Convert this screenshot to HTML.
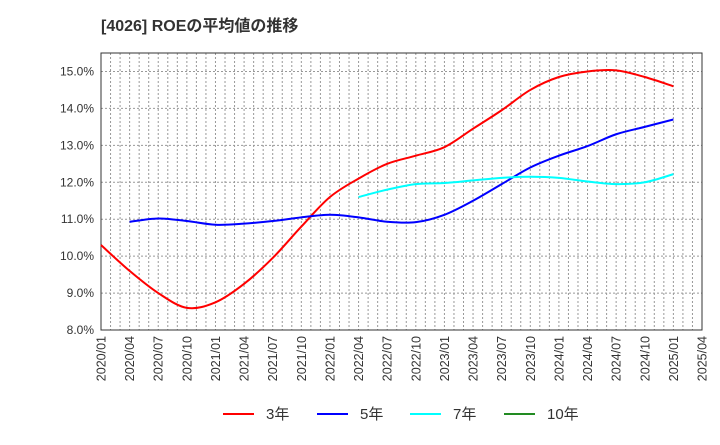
<!DOCTYPE html>
<html><head><meta charset="utf-8"><style>
body{margin:0;background:#fff;font-family:"Liberation Sans","Noto Sans CJK JP",sans-serif}
</style></head><body>
<svg width="720" height="440" xmlns="http://www.w3.org/2000/svg">
<text x="101" y="31" font-size="16" font-weight="bold" fill="#333">[4026]  ROEの平均値の推移</text>
<g id="grid"></g>
<rect x="101" y="53" width="601" height="277" fill="none" stroke="#333" stroke-width="1"/>
<g id="yt"></g><g id="xt"></g><g id="series"></g>
<g id="legend" font-size="15" fill="#333"></g>
</svg>
<script>
const yTicks=[8,9,10,11,12,13,14,15];
const xLabels=["2020/01","2020/04","2020/07","2020/10","2021/01","2021/04","2021/07","2021/10","2022/01","2022/04","2022/07","2022/10","2023/01","2023/04","2023/07","2023/10","2024/01","2024/04","2024/07","2024/10","2025/01","2025/04"];
const roe3=[10.3,9.6,9.0,8.6,8.75,9.25,9.95,10.8,11.6,12.1,12.5,12.72,12.95,13.45,13.95,14.5,14.85,15.0,15.03,14.85,14.6];
const roe5=[null,10.93,11.02,10.95,10.85,10.88,10.95,11.05,11.12,11.05,10.93,10.92,11.12,11.5,11.95,12.4,12.72,12.98,13.3,13.5,13.7];
const roe7=[null,null,null,null,null,null,null,null,null,11.6,11.8,11.95,11.98,12.05,12.12,12.15,12.12,12.02,11.95,12.0,12.22];
const roe10=[];
const NS="http://www.w3.org/2000/svg";
const X0=101,X1=702,Y0=330,Y1=53,vmin=8,vmax=15.5;
const xq=i=>X0+(X1-X0)*i/21;
const xm=m=>X0+(X1-X0)*m/63;
const y=v=>Y0-(v-vmin)/(vmax-vmin)*(Y0-Y1);
function mk(t,a,p){const e=document.createElementNS(NS,t);for(const k in a)e.setAttribute(k,a[k]);p.appendChild(e);return e;}
const grid=document.getElementById('grid');
for(let m=1;m<63;m++){const l=mk('line',{x1:xm(m),x2:xm(m),y1:Y1,y2:Y0,stroke:'#999','stroke-dasharray':'2,2','stroke-width':1},grid);

}
const yt=document.getElementById('yt');
yTicks.forEach(v=>{if(v>vmin){const l=mk('line',{x1:X0,x2:X1,y1:y(v),y2:y(v),stroke:'#999','stroke-dasharray':'2,2'},grid);

}
const t=mk('text',{x:94,y:y(v)+4,'text-anchor':'end','font-size':12,fill:'#333'},yt);t.textContent=v.toFixed(1)+'%';

});
const xt=document.getElementById('xt');
xLabels.forEach((s,i)=>{const t=mk('text',{transform:`translate(${xq(i)+4.5},336) rotate(-90)`,'text-anchor':'end','font-size':12.5,fill:'#333'},xt);t.textContent=s;

});
function path(arr){const p=[];arr.forEach((v,i)=>{if(v!=null)p.push([xq(i),y(v)]);});if(p.length<2)return '';
let d=`M${p[0][0]},${p[0][1]}`;for(let i=0;i<p.length-1;i++){const a=p[i-1]||p[i],b=p[i],c=p[i+1],e=p[i+2]||c;
d+=` C${b[0]+(c[0]-a[0])/6},${b[1]+(c[1]-a[1])/6} ${c[0]-(e[0]-b[0])/6},${c[1]-(e[1]-b[1])/6} ${c[0]},${c[1]}`;}return d;}
const ser=document.getElementById('series');
[[roe3,'#ff0000','line-3yr'],[roe5,'#0000ff','line-5yr'],[roe7,'#00ffff','line-7yr'],[roe10,'#228b22','line-10yr']].forEach(([a,c,n])=>{const d=path(a);if(!d)return;
const e=mk('path',{d:d,fill:'none',stroke:c,'stroke-width':2},ser);

});
const lg=document.getElementById('legend');
[['3年','#ff0000',223],['5年','#0000ff',317],['7年','#00ffff',410],['10年','#228b22',504]].forEach(([s,c,x])=>{
const l=mk('line',{x1:x,x2:x+31,y1:414,y2:414,stroke:c,'stroke-width':2},lg);


const t=mk('text',{x:x+43,y:419},lg);t.textContent=s;

});
</script>
</body></html>
